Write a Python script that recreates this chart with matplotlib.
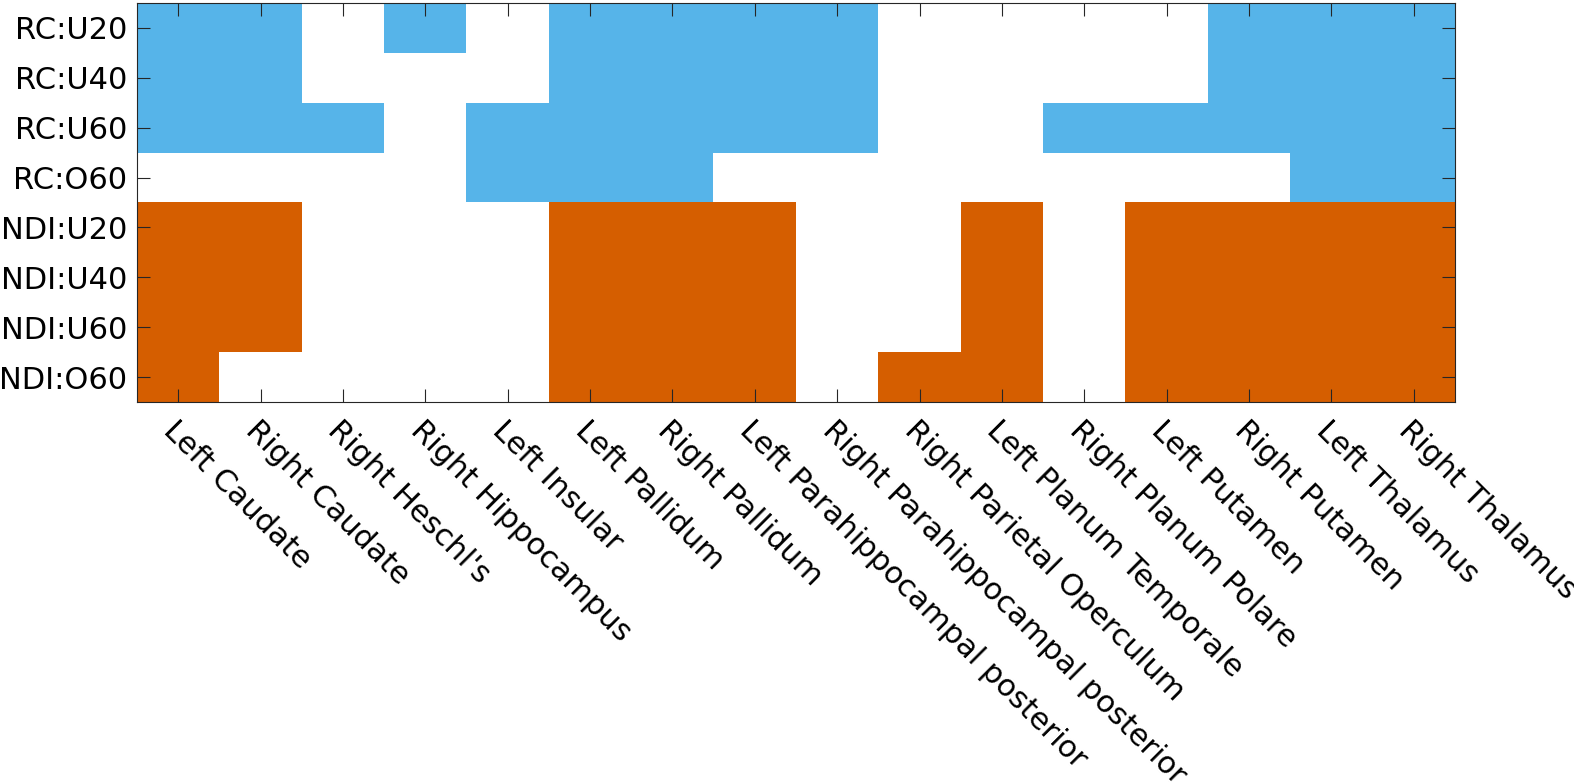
import numpy as np
import matplotlib
matplotlib.use("Agg")
import matplotlib.pyplot as plt
from matplotlib.colors import ListedColormap

regions = ["Left Caudate", "Right Caudate", "Right Heschl's", "Right Hippocampus",
           "Left Insular", "Left Pallidum", "Right Pallidum",
           "Left Parahippocampal posterior", "Right Parahippocampal posterior",
           "Right Parietal Operculum", "Left Planum Temporale", "Right Planum Polare",
           "Left Putamen", "Right Putamen", "Left Thalamus", "Right Thalamus"]

rc_labels = ["RC:U20", "RC:U40", "RC:U60", "RC:O60"]
ndi_labels = ["NDI:U20", "NDI:U40", "NDI:U60", "NDI:O60"]

# 1 = significant, 0 = not
rc_sig = [
    [1, 1, 0, 1, 0, 1, 1, 1, 1, 0, 0, 0, 0, 1, 1, 1],
    [1, 1, 0, 0, 0, 1, 1, 1, 1, 0, 0, 0, 0, 1, 1, 1],
    [1, 1, 1, 0, 1, 1, 1, 1, 1, 0, 0, 1, 1, 1, 1, 1],
    [0, 0, 0, 0, 1, 1, 1, 0, 0, 0, 0, 0, 0, 0, 1, 1],
]
ndi_sig = [
    [1, 1, 0, 0, 0, 1, 1, 1, 0, 0, 1, 0, 1, 1, 1, 1],
    [1, 1, 0, 0, 0, 1, 1, 1, 0, 0, 1, 0, 1, 1, 1, 1],
    [1, 1, 0, 0, 0, 1, 1, 1, 0, 0, 1, 0, 1, 1, 1, 1],
    [1, 0, 0, 0, 0, 1, 1, 1, 0, 1, 1, 0, 1, 1, 1, 1],
]

grid = np.vstack([np.array(rc_sig) * 1, np.array(ndi_sig) * 2])
cmap = ListedColormap(["white", "#56B4E9", "#D55E00"])

fig = plt.figure(figsize=(15.74, 7.84), dpi=100)
ax = fig.add_axes([137 / 1574, 1 - 402 / 784, 1318 / 1574, 399 / 784])
ax.imshow(grid, cmap=cmap, vmin=-0.5, vmax=2.5, aspect="auto", interpolation="nearest")

ax.set_xticks(range(len(regions)))
ax.set_xticklabels(regions, rotation=-45, ha="left", va="top", rotation_mode="anchor")
ax.set_yticks(range(grid.shape[0]))
ax.set_yticklabels(rc_labels + ndi_labels)

ax.tick_params(direction="in", length=9.5, width=0.8, color="#262626",
               top=True, right=True, labelsize=22, pad=7)
ax.tick_params(axis="x", pad=10)
for s in ax.spines.values():
    s.set_color("#262626")
    s.set_linewidth(0.8)

fig.savefig("out.png", dpi=100)
